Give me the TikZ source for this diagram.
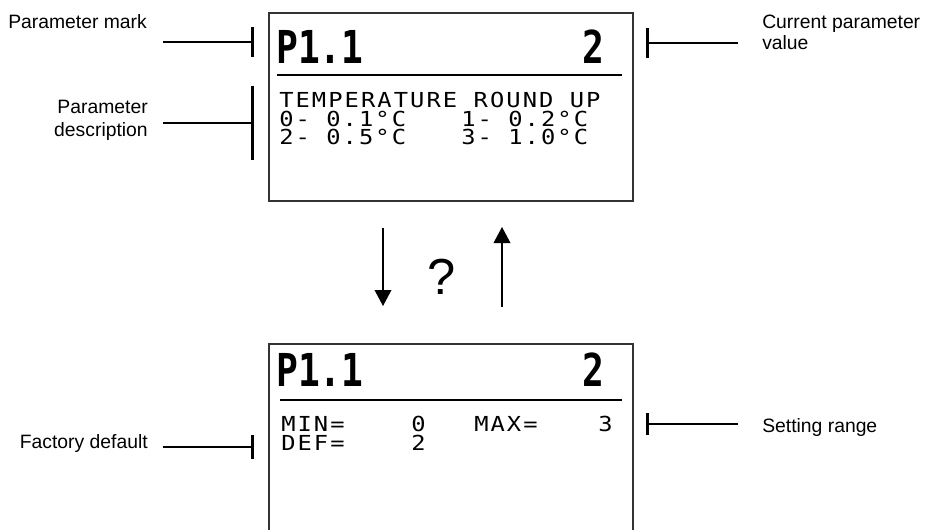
\documentclass[tikz,border=0pt]{standalone}
\usepackage{fontspec}
\setmainfont{Liberation Sans}
\newfontfamily\lcdfont[FakeStretch=1.15,LetterSpace=10]{DejaVu Sans Mono}
\newfontfamily\lcdhead[FakeStretch=0.80]{DejaVu Sans Mono}
\usetikzlibrary{arrows.meta}

\begin{document}
\begin{tikzpicture}[
    x=0.75pt, y=-0.75pt,
    screen/.style={draw=black!80, line width=1.1pt},
    rule/.style={line width=1.6pt},
    lcd/.style={font=\lcdfont\fontsize{15.5}{15.5}\selectfont, inner sep=0pt,
        text height=11pt, text depth=0pt, anchor=base west},
    head/.style={font=\lcdhead\bfseries\fontsize{34}{34}\selectfont, inner sep=0pt},
    lbl/.style={font=\fontsize{14.5}{17.25}\selectfont, inner sep=0pt},
    callout/.style={line width=1.1pt, -{Bar[width=#1, line width=2.2pt]}},
    flow/.style={line width=1.1pt, -{Triangle[length=12pt, width=12.5pt]}}
]
    \clip (0,0) rectangle (925,529);

    % --- Upper screen ---
    \draw[screen] (269,13) rectangle (633,201);
    \node[head, anchor=base west] (topid) at (276,63) {P1.1};
    \node[head, anchor=base east] (topval) at (605,63) {2};
    \draw[rule] (277,75) -- (622,75);
    \node[lcd] (topdesc) at (279,107) {TEMPERATURE ROUND UP};
    \node[lcd] (optzero) at (279,126) {0- 0.1°C};
    \node[lcd] (optone) at (461,126) {1- 0.2°C};
    \node[lcd] (opttwo) at (279,144) {2- 0.5°C};
    \node[lcd] (optthree) at (461,144) {3- 1.0°C};

    % --- Lower screen ---
    \draw[screen] (269,545) -- (269,344) -- (633,344) -- (633,545);
    \node[head, anchor=base west] (botid) at (276,386) {P1.1};
    \node[head, anchor=base east] (botval) at (605,386) {2};
    \draw[rule] (280,400) -- (622,400);
    \node[lcd] (minlbl) at (281,431) {MIN=};
    \node[lcd] (minval) at (411,431) {0};
    \node[lcd] (maxlbl) at (474,431) {MAX=};
    \node[lcd] (maxval) at (598,431) {3};
    \node[lcd] (deflbl) at (281,450) {DEF=};
    \node[lcd] (defval) at (411,450) {2};

    % --- Labels ---
    \node[lbl, anchor=base west] (lblmark) at (8,28) {Parameter mark};
    \node[lbl, align=right, anchor=east] (lbldesc) at (148,120) {Parameter\\description};
    \node[lbl, align=left, anchor=north west, font=\fontsize{14.5}{15.4}\selectfont] (lblcur) at (762,15) {Current parameter\\value};
    \node[lbl, anchor=base east] (lblfac) at (148,448) {Factory default};
    \node[lbl, anchor=base west] (lblset) at (762,432) {Setting range};

    % --- Callouts ---
    \coordinate (markfoot) at (163,42);  \coordinate (markbar) at (254,42);
    \coordinate (descfoot) at (163,123); \coordinate (descbar) at (254,123);
    \coordinate (curfoot) at (738,43);   \coordinate (curbar) at (646,43);
    \coordinate (facfoot) at (163,447);  \coordinate (facbar) at (254,447);
    \coordinate (setfoot) at (738,424);  \coordinate (setbar) at (646,424);
    \draw[callout=22.5pt] (markfoot) -- (markbar);
    \draw[callout=56pt] (descfoot) -- (descbar);
    \draw[callout=22.5pt] (curfoot) -- (curbar);
    \draw[callout=18pt] (facfoot) -- (facbar);
    \draw[callout=17pt] (setfoot) -- (setbar);

    % --- Navigation ---
    \coordinate (downstart) at (383,228); \coordinate (downend) at (383,306);
    \coordinate (upstart) at (502,307);   \coordinate (upend) at (502,227);
    \draw[flow] (downstart) -- (downend);
    \draw[flow] (upstart) -- (upend);
    \node[font=\fontsize{38}{38}\selectfont, inner sep=0pt] (ask) at (442,277) {?};

\end{tikzpicture}
\end{document}
